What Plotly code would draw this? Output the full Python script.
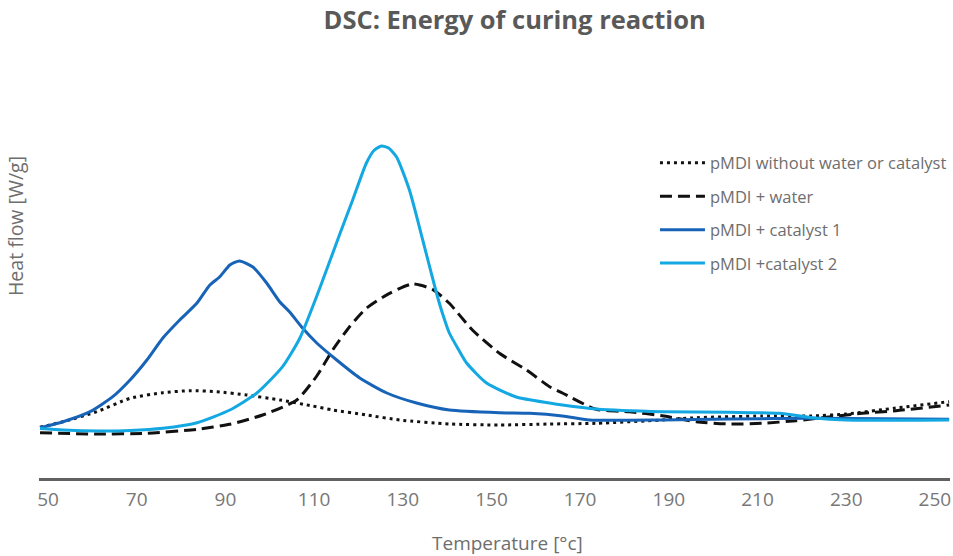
import plotly.graph_objects as go

# Temperature [°C] and heat flow (arbitrary W/g units)
t_dry = [48.2, 53.4, 61.0, 68.5, 75.9, 82.0, 88.1, 94.8, 102.3, 109.7, 114.2, 121.8, 129.3,
         140.5, 151.8, 163.1, 173.6, 188.5, 196.2, 211.0, 222.3, 230.0, 241.2, 253.2]
hf_dry = [0.507, 0.563, 0.663, 0.797, 0.853, 0.873, 0.863, 0.83, 0.78, 0.72, 0.68, 0.63, 0.58,
          0.54, 0.53, 0.54, 0.547, 0.58, 0.603, 0.62, 0.62, 0.64, 0.70, 0.763]

t_water = [48.2, 61.0, 72.3, 83.6, 91.0, 98.4, 106.1, 110.6, 114.2, 118.0, 121.8, 127.0, 132.2,
           136.7, 140.5, 145.7, 151.8, 157.9, 163.1, 166.0, 173.6, 181.1, 188.5, 196.2, 203.6,
           211.0, 218.7, 224.5, 233.6, 241.2, 253.2]
hf_water = [0.453, 0.44, 0.447, 0.487, 0.537, 0.63, 0.78, 1.02, 1.28, 1.513, 1.697, 1.847, 1.94,
            1.887, 1.747, 1.48, 1.247, 1.08, 0.913, 0.85, 0.687, 0.663, 0.623, 0.563, 0.54,
            0.547, 0.573, 0.603, 0.647, 0.673, 0.73]

t_cat1 = [48.2, 53.4, 59.5, 64.6, 68.5, 72.3, 75.9, 79.7, 83.6, 86.5, 88.7, 91.0, 93.2, 96.2,
          99.3, 102.3, 104.5, 107.4, 110.6, 115.1, 120.3, 126.4, 133.1, 140.5, 151.8, 158.6,
          166.0, 172.1, 188.5, 203.6, 222.3, 253.2]
hf_cat1 = [0.503, 0.563, 0.663, 0.813, 0.98, 1.18, 1.40, 1.58, 1.75, 1.93, 2.01, 2.13, 2.17, 2.11,
           1.95, 1.76, 1.66, 1.50, 1.35, 1.18, 1.00, 0.85, 0.75, 0.68, 0.653, 0.647,
           0.62, 0.58, 0.58, 0.59, 0.597, 0.587]

t_cat2 = [48.2, 53.4, 61.7, 68.5, 75.9, 83.6, 91.0, 97.1, 102.9, 106.8, 111.3, 115.8, 118.7,
          121.8, 123.6, 125.2, 126.8, 128.6, 131.5, 134.5, 137.6, 139.0, 140.5, 142.5, 144.4,
          148.9, 155.6, 163.1, 166.0, 173.6, 188.5, 203.6, 214.9, 222.3, 230.0, 253.2]
hf_cat2 = [0.495, 0.48, 0.47, 0.475, 0.497, 0.553, 0.68, 0.85, 1.113, 1.40, 1.90, 2.44, 2.78,
           3.15, 3.28, 3.32, 3.30, 3.21, 2.88, 2.38, 1.85, 1.64, 1.45, 1.29, 1.15,
           0.95, 0.81, 0.75, 0.73, 0.69, 0.663, 0.657, 0.647, 0.603, 0.58, 0.58]

series_names = ["pMDI without water or catalyst", "pMDI + water",
                "pMDI + catalyst 1", "pMDI +catalyst 2"]
tick_values = [50, 70, 90, 110, 130, 150, 170, 190, 210, 230, 250]
tick_labels = ["50", "70", "90", "110", "130", "150", "170", "190", "210", "230", "250"]

FONT = "Open Sans"
GREY = "#6e6e6e"

fig = go.Figure()
styles = [
    dict(color="#111111", width=3, dash="3px,4px"),
    dict(color="#111111", width=3, dash="12px,6px"),
    dict(color="#1763b8", width=3, dash="solid"),
    dict(color="#14a8e2", width=3, dash="solid"),
]
data = [(t_dry, hf_dry), (t_water, hf_water), (t_cat1, hf_cat1), (t_cat2, hf_cat2)]
for i, ((xs, ys), name, st) in enumerate(zip(data, series_names, styles)):
    fig.add_trace(go.Scatter(
        x=xs, y=ys, name=name, mode="lines", legendgroup=f"g{i}",
        line=dict(shape="spline", smoothing=0.6, **st),
        hoverinfo="skip",
    ))

fig.update_layout(
    width=953, height=556,
    margin=dict(l=39, r=2, t=128, b=78),
    paper_bgcolor="white", plot_bgcolor="white",
    title=dict(text="<b>DSC: Energy of curing reaction</b>", x=0.54, xref="container",
               xanchor="center", y=0.963, yanchor="middle",
               font=dict(family=FONT, size=25.5, color="#595959")),
    showlegend=True,
    legend=dict(x=0.6754, xanchor="left", y=0.95, yanchor="top",
                bgcolor="rgba(0,0,0,0)", tracegroupgap=9, itemwidth=45,
                font=dict(family=FONT, size=16.5, color=GREY)),
    xaxis=dict(range=[47.97, 253.4], showgrid=False, zeroline=False,
               showline=True, linecolor="#616161", linewidth=3,
               tickmode="array", tickvals=tick_values, ticktext=tick_labels,
               ticks="", ticklabelstandoff=2,
               tickfont=dict(family=FONT, size=19, color="#777777")),
    yaxis=dict(range=[0, 3.5], showgrid=False, zeroline=False, showline=False,
               showticklabels=False, ticks=""),
    annotations=[
        dict(text="Temperature [°c]", xref="paper", yref="paper", x=(508 - 39) / 912,
             y=-(543 - 478) / 350, xanchor="center", yanchor="middle", showarrow=False,
             font=dict(family=FONT, size=19, color=GREY)),
        dict(text="Heat flow [W/g]", xref="paper", yref="paper", x=-(39 - 15) / 912,
             y=(478 - 226) / 350, xanchor="center", yanchor="middle", showarrow=False,
             textangle=-90, font=dict(family=FONT, size=19.5, color=GREY)),
    ],
)

fig.write_html("out.html", config={"displayModeBar": False},
               post_script="document.body.style.margin='0';")
